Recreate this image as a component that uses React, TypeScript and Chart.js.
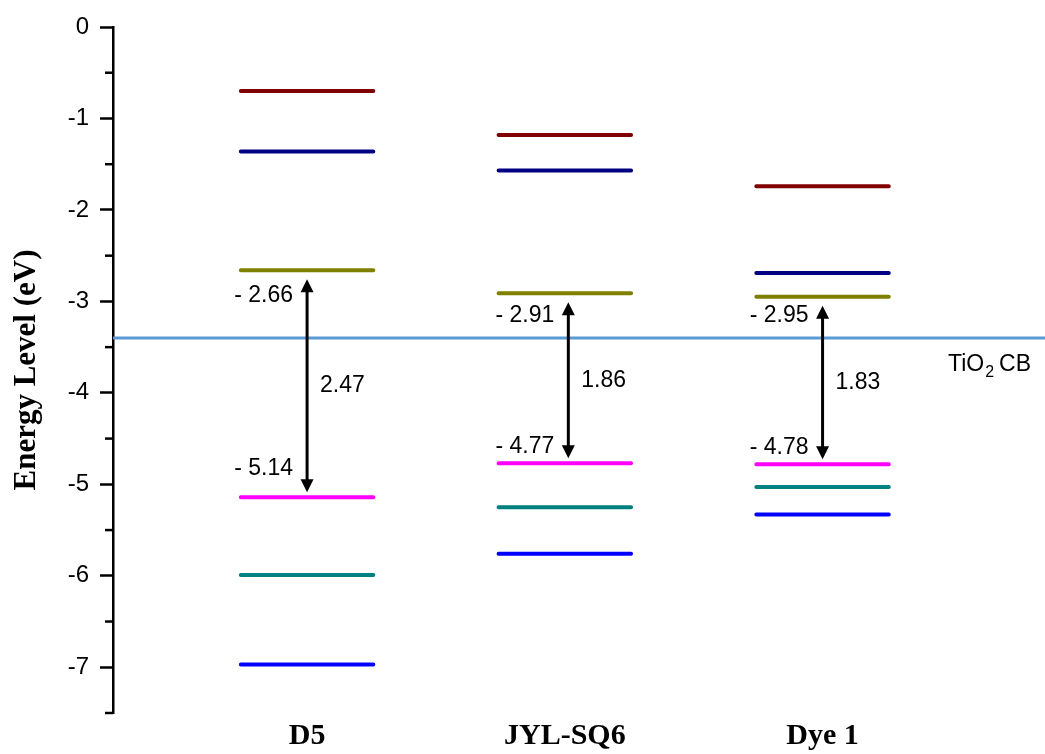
import React, { useEffect, useRef } from 'react';
import { Chart, registerables } from 'chart.js';

Chart.register(...registerables);

// ---- data ----
const dyes = ['D5', 'JYL-SQ6', 'Dye 1'];
const dyePositions = [1, 2, 3];
const lumoPlus2 = [-0.7, -1.18, -1.74];
const lumoPlus1 = [-1.36, -1.57, -2.69];
const lumo = [-2.66, -2.91, -2.95];
const homo = [-5.14, -4.77, -4.78];
const homoMinus1 = [-5.99, -5.25, -5.03];
const homoMinus2 = [-6.97, -5.76, -5.33];
const bandGaps = [2.47, 1.86, 1.83];
const tio2CB = -3.4;
const yTickValues = [0, -1, -2, -3, -4, -5, -6, -7];
const yMinorTickValues = [-0.5, -1.5, -2.5, -3.5, -4.5, -5.5, -6.5, -7.5];

const X_MIN = 0.247;
const X_MAX = 3.863;
const HALF = 0.257;

const SANS = '"Liberation Sans", Arial, Helvetica, sans-serif';
const SERIF = '"Liberation Serif", "Times New Roman", Times, serif';

function segments(values: number[]) {
  const pts: { x: number; y: number | null }[] = [];
  values.forEach((v, i) => {
    const x = dyePositions[i];
    pts.push({ x: x - HALF, y: v }, { x: x + HALF, y: v });
    if (i < values.length - 1) pts.push({ x: x + 0.5, y: null });
  });
  return pts;
}

function levelDataset(values: number[], color: string) {
  return {
    data: segments(values),
    borderColor: color,
    backgroundColor: color,
    borderWidth: 4,
    borderCapStyle: 'round' as const,
    pointRadius: 0,
    spanGaps: false,
    fill: false,
  };
}

const annotationPlugin = {
  id: 'energyAnnotations',
  afterDatasetsDraw(chart: any) {
    const { ctx, scales, chartArea } = chart;
    const xs = scales.x;
    const ys = scales.y;
    ctx.save();

    // minor ticks on y axis
    ctx.strokeStyle = '#000';
    ctx.lineWidth = 2.5;
    yMinorTickValues.forEach((v) => {
      const py = ys.getPixelForValue(v);
      ctx.beginPath();
      ctx.moveTo(chartArea.left - 8, py);
      ctx.lineTo(chartArea.left, py);
      ctx.stroke();
    });

    const topOffsets = [25, 22, 19];
    const bottomOffsets = [-28, -17, -17];
    const arrowShift = [0, 3.5, 0];

    dyePositions.forEach((xv, i) => {
      const ax = xs.getPixelForValue(xv) + arrowShift[i];
      const yTop = ys.getPixelForValue(lumo[i]) + 9;
      const yBot = ys.getPixelForValue(homo[i]) - 5;
      const head = 13;
      const hw = 6.5;
      // shaft
      ctx.strokeStyle = '#000';
      ctx.lineWidth = 3;
      ctx.beginPath();
      ctx.moveTo(ax, yTop + head - 1);
      ctx.lineTo(ax, yBot - head + 1);
      ctx.stroke();
      ctx.fillStyle = '#000';
      ctx.beginPath();
      ctx.moveTo(ax, yTop);
      ctx.lineTo(ax - hw, yTop + head);
      ctx.lineTo(ax + hw, yTop + head);
      ctx.closePath();
      ctx.fill();
      ctx.beginPath();
      ctx.moveTo(ax, yBot);
      ctx.lineTo(ax - hw, yBot - head);
      ctx.lineTo(ax + hw, yBot - head);
      ctx.closePath();
      ctx.fill();

      ctx.font = `23px ${SANS}`;
      ctx.textBaseline = 'middle';
      ctx.textAlign = 'right';
      ctx.fillText(`- ${Math.abs(lumo[i]).toFixed(2)}`, ax - 14, ys.getPixelForValue(lumo[i]) + topOffsets[i]);
      ctx.fillText(`- ${Math.abs(homo[i]).toFixed(2)}`, ax - 14, ys.getPixelForValue(homo[i]) + bottomOffsets[i]);
      ctx.textAlign = 'left';
      ctx.fillText(bandGaps[i].toFixed(2), ax + 13, (yTop + yBot) / 2);
    });

    // TiO2 CB label
    const ty = ys.getPixelForValue(tio2CB) + 33;
    let tx = 948;
    ctx.textAlign = 'left';
    ctx.textBaseline = 'alphabetic';
    ctx.font = `23px ${SANS}`;
    ctx.fillText('TiO', tx, ty);
    tx += ctx.measureText('TiO').width + 1;
    ctx.font = `16px ${SANS}`;
    ctx.fillText('2', tx, ty + 6);
    tx += ctx.measureText('2').width + 5;
    ctx.font = `23px ${SANS}`;
    ctx.fillText('CB', tx, ty);

    ctx.restore();
  },
};

export default function App() {
  const canvasRef = useRef<HTMLCanvasElement | null>(null);

  useEffect(() => {
    if (!canvasRef.current) return;
    const chart = new Chart(canvasRef.current, {
      type: 'line',
      data: {
        datasets: [
          {
            data: [
              { x: X_MIN, y: tio2CB },
              { x: X_MAX, y: tio2CB },
            ],
            borderColor: '#5B9BD5',
            borderWidth: 3,
            pointRadius: 0,
            fill: false,
          },
          levelDataset(lumoPlus2, '#800000'),
          levelDataset(lumoPlus1, '#000080'),
          levelDataset(lumo, '#808000'),
          levelDataset(homo, '#FF00FF'),
          levelDataset(homoMinus1, '#008080'),
          levelDataset(homoMinus2, '#0000FF'),
        ] as any,
      },
      options: {
        responsive: false,
        animation: false,
        devicePixelRatio: 1,
        layout: { padding: { top: 27, left: 0, right: 0, bottom: 0 } },
        plugins: { legend: { display: false }, tooltip: { enabled: false } },
        scales: {
          x: {
            type: 'linear',
            min: X_MIN,
            max: X_MAX,
            afterBuildTicks: (s: any) => {
              s.ticks = dyePositions.map((v) => ({ value: v }));
            },
            afterFit: (s: any) => {
              s.height = 41;
            },
            ticks: {
              callback: (_v: any, i: number) => dyes[i],
              font: { family: SERIF, size: 30, weight: 'bold' },
              color: '#000',
              padding: 5,
              autoSkip: false,
              maxRotation: 0,
            },
            grid: { display: false, drawTicks: false },
            border: { display: false },
          },
          y: {
            type: 'linear',
            min: -7.5,
            max: 0,
            afterBuildTicks: (s: any) => {
              s.ticks = yTickValues.map((v) => ({ value: v }));
            },
            afterFit: (s: any) => {
              s.width = 113;
            },
            ticks: {
              font: { family: SANS, size: 24 },
              color: '#000',
              padding: 11,
              callback: (v: any) => String(v),
            },
            grid: {
              display: true,
              drawOnChartArea: false,
              drawTicks: true,
              tickLength: 13,
              tickColor: '#000',
              tickWidth: 2.5,
            },
            border: { display: true, color: '#000', width: 2.5 },
            title: {
              display: true,
              text: 'Energy Level (eV)',
              font: { family: SERIF, size: 31, weight: 'bold' },
              color: '#000',
              padding: { top: 8, bottom: 0 },
            },
          },
        },
      } as any,
      plugins: [annotationPlugin],
    });
    return () => chart.destroy();
  }, []);

  return (
    <div style={{ position: 'fixed', left: 0, top: 0, width: 1045, height: 754, background: '#fff' }}>
      <canvas ref={canvasRef} width={1045} height={754} style={{ display: 'block' }} />
    </div>
  );
}
